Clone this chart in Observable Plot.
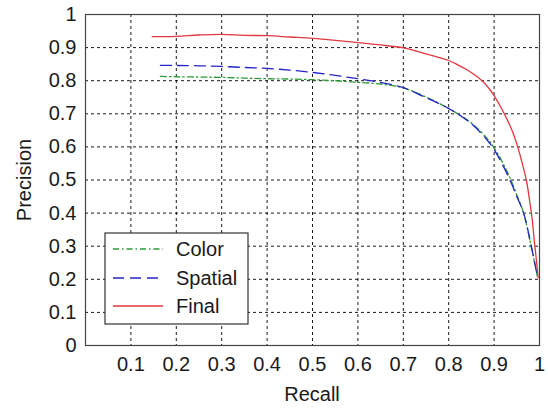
<!DOCTYPE html>
<html>
<head>
<meta charset="utf-8">
<script src="https://cdn.jsdelivr.net/npm/d3@7"></script>
<script src="https://cdn.jsdelivr.net/npm/@observablehq/plot@0.6"></script>
<style>
  html, body { margin: 0; padding: 0; background: #fff; }
  #chart { width: 548px; height: 408px; }
</style>
</head>
<body>
<div id="chart"></div>
<script>
// ---- data ----
const xTicks = [0.1, 0.2, 0.3, 0.4, 0.5, 0.6, 0.7, 0.8, 0.9, 1];
const yTicks = [0, 0.1, 0.2, 0.3, 0.4, 0.5, 0.6, 0.7, 0.8, 0.9, 1];

const seriesNames = ["Color", "Spatial", "Final"];

const colorRecall    = [0.165, 0.2, 0.25, 0.3, 0.35, 0.4, 0.45, 0.5, 0.55, 0.6, 0.65, 0.7, 0.74, 0.8, 0.85, 0.885, 0.9, 0.93, 0.95, 0.965, 0.98, 0.995];
const colorPrecision = [0.813, 0.812, 0.811, 0.810, 0.808, 0.806, 0.805, 0.803, 0.800, 0.795, 0.790, 0.778, 0.757, 0.716, 0.672, 0.625, 0.598, 0.522, 0.455, 0.400, 0.310, 0.210];

const spatialRecall    = [0.165, 0.2, 0.25, 0.3, 0.35, 0.4, 0.45, 0.5, 0.55, 0.6, 0.65, 0.7, 0.74, 0.8, 0.85, 0.885, 0.9, 0.93, 0.95, 0.965, 0.982, 0.996];
const spatialPrecision = [0.846, 0.846, 0.845, 0.843, 0.840, 0.837, 0.832, 0.825, 0.816, 0.806, 0.795, 0.779, 0.755, 0.716, 0.670, 0.620, 0.592, 0.515, 0.450, 0.400, 0.300, 0.205];

const finalRecall    = [0.147, 0.2, 0.25, 0.3, 0.35, 0.4, 0.45, 0.5, 0.55, 0.6, 0.65, 0.7, 0.74, 0.8, 0.82, 0.84, 0.86, 0.874, 0.888, 0.9, 0.921, 0.94, 0.952, 0.962, 0.971, 0.978, 0.984, 0.989, 0.993, 0.997];
const finalPrecision = [0.933, 0.934, 0.938, 0.940, 0.937, 0.936, 0.932, 0.928, 0.922, 0.915, 0.908, 0.899, 0.885, 0.861, 0.848, 0.833, 0.815, 0.799, 0.778, 0.755, 0.704, 0.648, 0.600, 0.550, 0.500, 0.440, 0.380, 0.310, 0.260, 0.205];

const seriesColors = ["#2f9a3a", "#2424c8", "#e0393f"];
const seriesDash   = ["6,3,1.5,3", "11,6", null];

// ---- build tables ----
const toRows = (xs, ys, name) => xs.map((x, i) => ({recall: x, precision: ys[i], series: name}));
const rows = [
  ...toRows(colorRecall, colorPrecision, "Color"),
  ...toRows(spatialRecall, spatialPrecision, "Spatial"),
  ...toRows(finalRecall, finalPrecision, "Final")
];

const FONT = "'Liberation Sans', Arial, Helvetica, sans-serif";
const FS = 20;
const fmt = d => String(+d.toFixed(1));

const lineMarks = seriesNames.map((name, i) =>
  Plot.line(rows.filter(r => r.series === name), {
    x: "recall", y: "precision",
    stroke: seriesColors[i], strokeWidth: 1.3,
    strokeDasharray: seriesDash[i] || undefined,
    curve: "catmull-rom"
  })
);

const chart = Plot.plot({
  width: 548,
  height: 408,
  marginLeft: 85,
  marginRight: 9,
  marginTop: 14,
  marginBottom: 63,
  style: {fontFamily: FONT, fontSize: FS + "px", color: "#1a1a1a", background: "#fff"},
  x: {domain: [0, 1]},
  y: {domain: [0, 1]},
  marks: [
    Plot.ruleX(xTicks.filter(d => d < 1), {stroke: "#000", strokeWidth: 1, strokeDasharray: "3,3", strokeOpacity: 0.9}),
    Plot.ruleY(yTicks.filter(d => d > 0 && d < 1), {stroke: "#000", strokeWidth: 1, strokeDasharray: "3,3", strokeOpacity: 0.9}),
    ...lineMarks,
    Plot.frame({stroke: "#444", strokeWidth: 1.2}),
    Plot.axisX({ticks: xTicks, tickFormat: fmt, tickSize: 0, tickPadding: 11, label: null, fontSize: FS}),
    Plot.axisY({ticks: yTicks, tickFormat: fmt, tickSize: 0, tickPadding: 9, label: null, fontSize: FS})
  ]
});

document.getElementById("chart").appendChild(chart);

// ---- axis titles and legend ----
const svg = d3.select(chart);
svg.append("text")
  .attr("x", 312).attr("y", 401)
  .attr("text-anchor", "middle")
  .attr("font-family", FONT).attr("font-size", FS).attr("fill", "#1a1a1a")
  .text("Recall");
svg.append("text")
  .attr("transform", "translate(31,180) rotate(-90)")
  .attr("text-anchor", "middle")
  .attr("font-family", FONT).attr("font-size", FS).attr("fill", "#1a1a1a")
  .text("Precision");

const lg = svg.append("g");
lg.append("rect")
  .attr("x", 105).attr("y", 233).attr("width", 143).attr("height", 91)
  .attr("fill", "#fff").attr("stroke", "#333").attr("stroke-width", 1.2);
const legendY = [249, 278, 306];
seriesNames.forEach((name, i) => {
  lg.append("line")
    .attr("x1", 113).attr("x2", 163).attr("y1", legendY[i]).attr("y2", legendY[i])
    .attr("stroke", seriesColors[i]).attr("stroke-width", 1.3)
    .attr("stroke-dasharray", seriesDash[i]);
  lg.append("text")
    .attr("x", 176).attr("y", legendY[i] + 7)
    .attr("text-anchor", "start")
    .attr("font-family", FONT).attr("font-size", FS).attr("fill", "#1a1a1a")
    .text(name);
});
</script>
</body>
</html>
